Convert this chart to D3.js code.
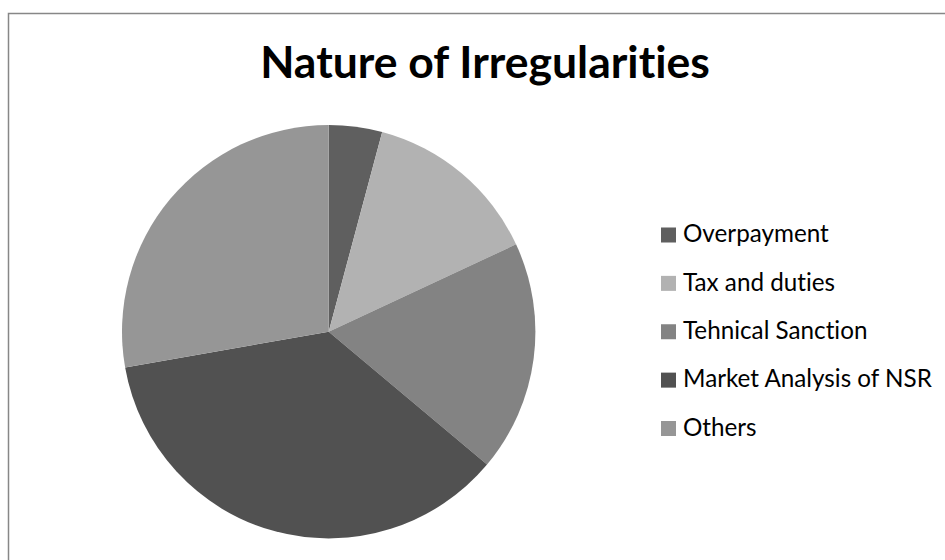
<!DOCTYPE html>
<html>
<head>
<meta charset="utf-8">
<script src="https://cdn.jsdelivr.net/npm/d3@7"></script>
<style>
  html, body { margin: 0; padding: 0; background: #fff; }
  svg { display: block; }
  text {
    font-family: Lato, "Open Sans", "Liberation Sans", sans-serif;
    font-variant-ligatures: none;
    font-feature-settings: "liga" 0, "clig" 0;
  }
</style>
</head>
<body>
<svg id="chart" width="945" height="560"></svg>
<script>
// Nature of irregularities — number of cases per category
const categories = ["Overpayment", "Tax and duties", "Tehnical Sanction", "Market Analysis of NSR", "Others"];
const counts = [3, 10, 13, 26, 20];
const shades = ["#5f5f5f", "#b2b2b2", "#838383", "#515151", "#969696"];
const titleText = "Nature of Irregularities";

const svg = d3.select("#chart");
const W = 945, H = 560;

// chart frame
svg.append("rect")
  .attr("x", 8.5).attr("y", 13.5)
  .attr("width", W + 20).attr("height", H + 20)
  .attr("fill", "#fff")
  .attr("stroke", "#878787")
  .attr("stroke-width", 1.5);

// title
const title = svg.append("text")
  .attr("x", 485).attr("y", 78)
  .attr("text-anchor", "middle")
  .attr("font-weight", 700)
  .attr("font-size", 44)
  .attr("fill", "#000")
  .text(titleText);
// fit the title to its measured span
{
  const w = title.node().getComputedTextLength();
  title.attr("font-size", 44 * 450 / w);
}

// pie
const cx = 328.7, cy = 331.7, radius = 206.7;
const color = d3.scaleOrdinal().domain(categories).range(shades);
const pie = d3.pie().sort(null).value(d => d.value);
const arc = d3.arc().innerRadius(0).outerRadius(radius);
const data = categories.map((c, i) => ({ name: c, value: counts[i] }));

svg.append("g")
  .attr("transform", `translate(${cx},${cy})`)
  .selectAll("path")
  .data(pie(data))
  .join("path")
  .attr("d", arc)
  .attr("fill", d => color(d.data.name));

// legend
const legendY = d3.scalePoint().domain(categories).range([235, 428.5]);
const legend = svg.append("g");
const rows = legend.selectAll("g")
  .data(categories)
  .join("g")
  .attr("transform", d => `translate(0,${legendY(d)})`);

rows.append("rect")
  .attr("x", 661).attr("y", -7.5)
  .attr("width", 15).attr("height", 15)
  .attr("fill", d => color(d));

const labels = rows.append("text")
  .attr("x", 683).attr("y", 7.3)
  .attr("font-size", 24)
  .attr("fill", "#000")
  .text(d => d);

// fit the legend text so the longest entry spans its measured width
{
  const longest = labels.filter(d => d === "Market Analysis of NSR").node();
  const w = longest.getComputedTextLength();
  labels.attr("font-size", 24 * 249 / w);
}
</script>
</body>
</html>
